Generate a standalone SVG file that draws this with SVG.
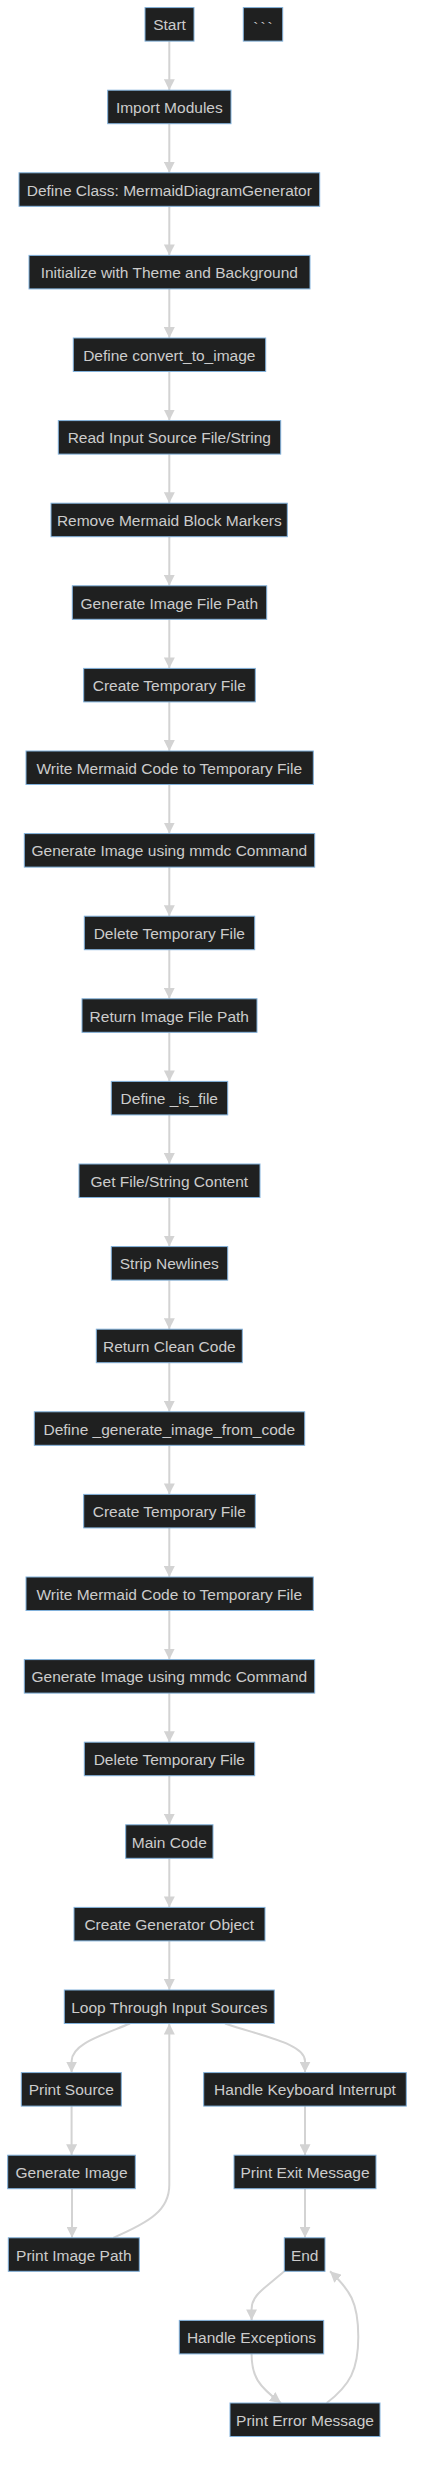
<svg xmlns="http://www.w3.org/2000/svg" width="422" height="2486" viewBox="0 0 422 2486">
<defs>
<marker id="arrow" viewBox="0 0 10 10" refX="10" refY="5" markerUnits="userSpaceOnUse" markerWidth="11" markerHeight="11" orient="auto">
<path d="M0,0 L10,5 L0,10 z" fill="#d3d3d3"/>
</marker>
</defs>
<style>
.node rect { fill: #1f2020; stroke: #81b1db; stroke-width: 1; }
.node text { fill: #cccccc; font-family: "Liberation Sans", Arial, sans-serif; font-size: 15.5px; text-anchor: middle; }
.edge { fill: none; stroke: #d3d3d3; stroke-width: 2; marker-end: url(#arrow); }
</style>
<rect x="0" y="0" width="422" height="2486" fill="#ffffff"/>
<g id="edges">
<path class="edge" d="M169.3,41.1 L169.3,90.2"/>
<path class="edge" d="M169.3,123.7 L169.3,172.8"/>
<path class="edge" d="M169.3,206.3 L169.3,255.4"/>
<path class="edge" d="M169.3,288.9 L169.3,338.0"/>
<path class="edge" d="M169.3,371.5 L169.3,420.6"/>
<path class="edge" d="M169.3,454.1 L169.3,503.2"/>
<path class="edge" d="M169.3,536.7 L169.3,585.8"/>
<path class="edge" d="M169.3,619.3 L169.3,668.4"/>
<path class="edge" d="M169.3,701.9 L169.3,751.0"/>
<path class="edge" d="M169.3,784.5 L169.3,833.6"/>
<path class="edge" d="M169.3,867.1 L169.3,916.2"/>
<path class="edge" d="M169.3,949.7 L169.3,998.8"/>
<path class="edge" d="M169.3,1032.3 L169.3,1081.4"/>
<path class="edge" d="M169.3,1114.9 L169.3,1164.0"/>
<path class="edge" d="M169.3,1197.5 L169.3,1246.6"/>
<path class="edge" d="M169.3,1280.1 L169.3,1329.2"/>
<path class="edge" d="M169.3,1362.7 L169.3,1411.8"/>
<path class="edge" d="M169.3,1445.3 L169.3,1494.4"/>
<path class="edge" d="M169.3,1527.9 L169.3,1577.0"/>
<path class="edge" d="M169.3,1610.5 L169.3,1659.6"/>
<path class="edge" d="M169.3,1693.1 L169.3,1742.2"/>
<path class="edge" d="M169.3,1775.7 L169.3,1824.8"/>
<path class="edge" d="M169.3,1858.3 L169.3,1907.4"/>
<path class="edge" d="M169.3,1940.9 L169.3,1990.0"/>
<path class="edge" d="M130,2023.5 C100,2036 72,2044 71.6,2061 L71.6,2072.6"/>
<path class="edge" d="M225,2023.5 C265,2037 305,2044 305,2061 L305,2072.6"/>
<path class="edge" d="M71.6,2106.1 L71.6,2155.2"/>
<path class="edge" d="M72,2188.7 L72,2237.8"/>
<path class="edge" d="M113.3,2237.8 C150,2222 169.3,2210 169.3,2185 L169.3,2023.5"/>
<path class="edge" d="M305,2106.1 L305,2155.2"/>
<path class="edge" d="M305,2188.7 L305,2237.8"/>
<path class="edge" d="M284.3,2271.3 C265,2288 251.6,2295 251.6,2309 L251.6,2320.4"/>
<path class="edge" d="M251.6,2353.9 C251.6,2376 258,2386 281,2403"/>
<path class="edge" d="M326.7,2403 C350,2385 358.3,2370 358.3,2336.7 C358.3,2302 350,2290 330,2271.3"/>
</g>
<g id="n0" class="node"><rect x="145" y="7.6" width="49" height="33.5"/><text x="169.5" y="30.4">Start</text></g>
<g id="nbt" class="node"><rect x="243.3" y="7.6" width="39.4" height="33.5"/><text x="264" y="33" letter-spacing="2">```</text></g>
<g id="n1" class="node"><rect x="107.7" y="90.2" width="123.3" height="33.5"/><text x="169.3" y="113">Import Modules</text></g>
<g id="n2" class="node"><rect x="19" y="172.8" width="300.7" height="33.5"/><text x="169.3" y="195.6">Define Class: MermaidDiagramGenerator</text></g>
<g id="n3" class="node"><rect x="29" y="255.4" width="281" height="33.5"/><text x="169.3" y="278.2">Initialize with Theme and Background</text></g>
<g id="n4" class="node"><rect x="73.3" y="338.0" width="192.4" height="33.5"/><text x="169.3" y="360.8">Define convert_to_image</text></g>
<g id="n5" class="node"><rect x="58.3" y="420.6" width="222.4" height="33.5"/><text x="169.3" y="443.4">Read Input Source File/String</text></g>
<g id="n6" class="node"><rect x="51" y="503.2" width="236.3" height="33.5"/><text x="169.3" y="526">Remove Mermaid Block Markers</text></g>
<g id="n7" class="node"><rect x="72.3" y="585.8" width="194.4" height="33.5"/><text x="169.3" y="608.6">Generate Image File Path</text></g>
<g id="n8" class="node"><rect x="83.7" y="668.4" width="171.6" height="33.5"/><text x="169.3" y="691.2">Create Temporary File</text></g>
<g id="n9" class="node"><rect x="26" y="751.0" width="287.3" height="33.5"/><text x="169.3" y="773.8">Write Mermaid Code to Temporary File</text></g>
<g id="n10" class="node"><rect x="24.3" y="833.6" width="290.4" height="33.5"/><text x="169.3" y="856.4">Generate Image using mmdc Command</text></g>
<g id="n11" class="node"><rect x="84.3" y="916.2" width="170.4" height="33.5"/><text x="169.3" y="939">Delete Temporary File</text></g>
<g id="n12" class="node"><rect x="82" y="998.8" width="175" height="33.5"/><text x="169.3" y="1021.6">Return Image File Path</text></g>
<g id="n13" class="node"><rect x="111.3" y="1081.4" width="116.4" height="33.5"/><text x="169.3" y="1104.2">Define _is_file</text></g>
<g id="n14" class="node"><rect x="79" y="1164.0" width="181" height="33.5"/><text x="169.3" y="1186.8">Get File/String Content</text></g>
<g id="n15" class="node"><rect x="111.3" y="1246.6" width="116.4" height="33.5"/><text x="169.3" y="1269.4">Strip Newlines</text></g>
<g id="n16" class="node"><rect x="96.3" y="1329.2" width="146" height="33.5"/><text x="169.3" y="1352">Return Clean Code</text></g>
<g id="n17" class="node"><rect x="34.3" y="1411.8" width="270.4" height="33.5"/><text x="169.3" y="1434.6">Define _generate_image_from_code</text></g>
<g id="n18" class="node"><rect x="83.7" y="1494.4" width="171.6" height="33.5"/><text x="169.3" y="1517.2">Create Temporary File</text></g>
<g id="n19" class="node"><rect x="26" y="1577.0" width="287.3" height="33.5"/><text x="169.3" y="1599.8">Write Mermaid Code to Temporary File</text></g>
<g id="n20" class="node"><rect x="24.3" y="1659.6" width="290.4" height="33.5"/><text x="169.3" y="1682.4">Generate Image using mmdc Command</text></g>
<g id="n21" class="node"><rect x="84.3" y="1742.2" width="170.4" height="33.5"/><text x="169.3" y="1765">Delete Temporary File</text></g>
<g id="n22" class="node"><rect x="125.7" y="1824.8" width="87.3" height="33.5"/><text x="169.3" y="1847.6">Main Code</text></g>
<g id="n23" class="node"><rect x="74" y="1907.4" width="191" height="33.5"/><text x="169.3" y="1930.2">Create Generator Object</text></g>
<g id="n24" class="node"><rect x="64.3" y="1990.0" width="210" height="33.5"/><text x="169.3" y="2012.8">Loop Through Input Sources</text></g>
<g id="n25" class="node"><rect x="21.3" y="2072.6" width="100" height="33.5"/><text x="71.3" y="2095.4">Print Source</text></g>
<g id="n26" class="node"><rect x="7.7" y="2155.2" width="127.6" height="33.5"/><text x="71.5" y="2178">Generate Image</text></g>
<g id="n27" class="node"><rect x="8.3" y="2237.8" width="131" height="33.5"/><text x="73.8" y="2260.6">Print Image Path</text></g>
<g id="n28" class="node"><rect x="203.7" y="2072.6" width="202.6" height="33.5"/><text x="305" y="2095.4">Handle Keyboard Interrupt</text></g>
<g id="n29" class="node"><rect x="234" y="2155.2" width="142" height="33.5"/><text x="305" y="2178">Print Exit Message</text></g>
<g id="n30" class="node"><rect x="284.3" y="2237.8" width="40.7" height="33.5"/><text x="304.7" y="2260.6">End</text></g>
<g id="n31" class="node"><rect x="179.3" y="2320.4" width="144.4" height="33.5"/><text x="251.5" y="2343.2">Handle Exceptions</text></g>
<g id="n32" class="node"><rect x="230" y="2403.0" width="150" height="33.5"/><text x="305" y="2425.8">Print Error Message</text></g>
</svg>
